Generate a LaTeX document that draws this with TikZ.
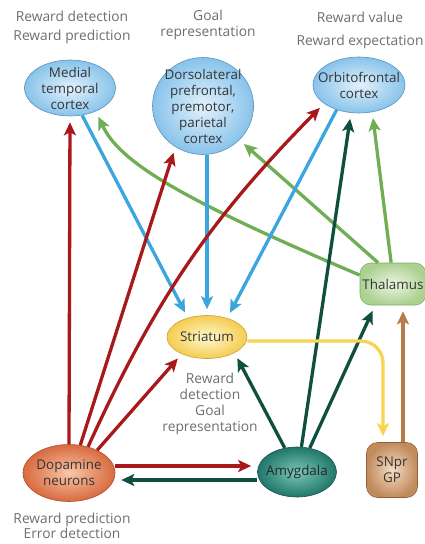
\documentclass[tikz,border=0pt]{standalone}
\usepackage{fontspec}
\setmainfont{Open Sans}
\usepackage{tikz}
\usetikzlibrary{
    arrows.meta,
    shapes.geometric
}
\definecolor{bluein}{HTML}{E3F2FC}
\definecolor{blueout}{HTML}{88C3EA}
\definecolor{blueedge}{HTML}{5B93BF}
\definecolor{yellowin}{HTML}{FFF8D0}
\definecolor{yellowout}{HTML}{F4CC50}
\definecolor{yellowedge}{HTML}{C9A23A}
\definecolor{orangein}{HTML}{F8C7A8}
\definecolor{orangeout}{HTML}{D86A40}
\definecolor{orangeedge}{HTML}{A9532F}
\definecolor{tealin}{HTML}{7CC6B8}
\definecolor{tealout}{HTML}{20776A}
\definecolor{tealedge}{HTML}{17574D}
\definecolor{greenin}{HTML}{EDF5E4}
\definecolor{greenout}{HTML}{ABD190}
\definecolor{greenedge}{HTML}{80AD66}
\definecolor{tanin}{HTML}{F4DCC4}
\definecolor{tanout}{HTML}{C28B5C}
\definecolor{tanedge}{HTML}{8E6040}
\definecolor{darkred}{HTML}{A8191C}
\definecolor{darkteal}{HTML}{0E4F40}
\definecolor{leafgreen}{HTML}{70AE55}
\definecolor{skyblue}{HTML}{3AA5DE}
\definecolor{sunyellow}{HTML}{F8D450}
\definecolor{tanbrown}{HTML}{B37C4A}
\definecolor{notegray}{HTML}{6E6E6E}
\definecolor{textgray}{HTML}{353535}

\begin{document}
\begin{tikzpicture}[
    x=1pt, y=1pt,
    >={Stealth[length=13pt,width=12pt,inset=3pt]},
    region/.style={
        ellipse,
        draw=#1edge,
        line width=0.6pt,
        inner color=#1in,
        outer color=#1out,
        text=textgray,
        align=center,
        inner sep=0pt,
        font=\fontsize{13.4}{16}\selectfont
    },
    relay/.style={
        rectangle,
        rounded corners=11pt,
        draw=#1edge,
        line width=0.6pt,
        inner color=#1in,
        outer color=#1out,
        text=textgray,
        align=center,
        inner sep=0pt,
        font=\fontsize{13.4}{16}\selectfont
    },
    note/.style={
        text=notegray,
        align=center,
        font=\fontsize{13.8}{16}\selectfont
    },
    line/.style={draw=#1, ->, line width=3.3pt, shorten >=6pt}
]
\useasboundingbox (0,0) rectangle (425,-544);

\node[region=blue, minimum width=91pt, minimum height=56pt, inner ysep=-3pt] (mtc) at (70,-88) {Medial\\temporal\\cortex};
\node[region=blue, minimum width=101pt, minimum height=97pt, inner sep=-4pt] (dlpfc) at (203,-106) {Dorsolateral\\prefrontal,\\premotor,\\parietal\\cortex};
\node[region=blue, minimum width=92pt, minimum height=56pt, inner xsep=-10pt] (ofc) at (359,-85) {Orbitofrontal\\cortex};
\node[relay=green, minimum width=66pt, minimum height=42pt] (thal) at (393,-284) {Thalamus};
\node[region=yellow, minimum width=80pt, minimum height=43pt, inner xsep=-3pt] (str) at (207,-337) {Striatum};
\node[region=orange, minimum width=92pt, minimum height=57pt, inner xsep=-3pt] (dop) at (69,-473) {Dopamine\\neurons};
\node[region=teal, minimum width=79pt, minimum height=50pt, inner xsep=-6pt, text=black!85] (amy) at (297,-472) {Amygdala};
\node[relay=tan, minimum width=51pt, minimum height=55pt] (snpr) at (392,-470) {SNpr\\GP};

\node[note] (lblmtc) at (72,-27) {Reward detection\\[3pt]Reward prediction};
\node[note] (lbldlpfc) at (208,-25) {Goal\\representation};
\node[note] (lblofc) at (360,-30) {Reward value\\[7pt]Reward expectation};
\node[note] (lblstr) at (210,-404) {Reward\\detection\\Goal\\representation};
\node[note] (lbldop) at (72,-526) {Reward prediction\\[-1pt]Error detection};

\draw[line=leafgreen] (thal.165) to[out=157, in=-65, out distance=200pt, in distance=55pt] (mtc.-42);
\draw[line=leafgreen] (thal.125) -- (dlpfc.-43);
\draw[line=leafgreen] (thal.95) -- (ofc.-64);
\draw[line=skyblue] (mtc.-66) -- (str.135);
\draw[line=skyblue] (dlpfc.south -| str.north) -- (str.north);
\draw[line=skyblue] (ofc.-132) -- (str.43);
\draw[line=darkred] (dop.north) -- (mtc.south);
\draw[line=darkred] (dop.68) -- (dlpfc.-124);
\draw[line=darkred] (dop.54) to[bend left=10] (ofc.-152);
\draw[line=darkred] (dop.39) -- (str.-146);
\draw[line=darkred] ([yshift=7pt]dop.east) -- ([yshift=6pt]amy.west);
\draw[line=darkteal] ([yshift=-8pt]amy.west) -- ([yshift=-7pt]dop.east);
\draw[line=darkteal] (amy.117) -- (str.-30);
\draw[line=darkteal] (amy.80) -- (ofc.-106);
\draw[line=darkteal] (amy.62) -- (thal.-130);
\draw[line=sunyellow, rounded corners=22pt] ([yshift=-4pt]str.east) -| ([xshift=-9pt]snpr.north);
\draw[line=tanbrown] ([xshift=11pt]snpr.north) -- ([xshift=10pt]thal.south);

\end{tikzpicture}
\end{document}
